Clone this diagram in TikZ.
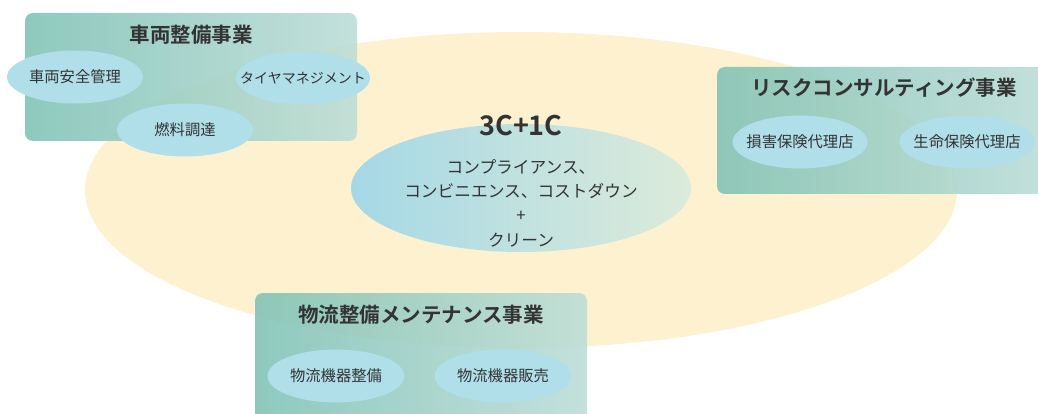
\documentclass[tikz,border=0pt]{standalone}
\usepackage{fontspec}
\newfontfamily\jp{Noto Sans CJK JP}
\newfontfamily\jpb{Noto Sans CJK JP Bold}
\usetikzlibrary{shapes.geometric}
\definecolor{yel}{HTML}{FEF1CF}
\definecolor{tealL}{HTML}{7FC2B5}
\definecolor{tealR}{HTML}{BCDDD7}
\definecolor{sky}{HTML}{B0DFEA}
\definecolor{cL}{HTML}{A5D8E6}
\definecolor{cR}{HTML}{DCEBDA}
\definecolor{txt}{HTML}{333333}
\tikzset{
  bizbox/.style={rounded corners=8pt, left color=tealL, right color=tealR, fill opacity=0.88, draw=none},
  svc/.style={ellipse, fill=sky, draw=none, minimum width=136pt, minimum height=53pt, inner sep=0pt},
  svctext/.style={text=txt, inner sep=0pt, font=\jp\fontsize{15.3}{17}\selectfont},
  ttl/.style={text=txt, font=\jpb\fontsize{20.5}{23}\selectfont, inner sep=0pt},
}
\begin{document}
\begin{tikzpicture}[x=1pt,y=-1pt]
\useasboundingbox (0,0) rectangle (1038,414);
\clip (0,0) rectangle (1038,414);
\fill[white] (0,0) rectangle (1038,414);
% big ellipse
\node[ellipse, fill=yel, draw=none, minimum width=872pt, minimum height=316pt, inner sep=0pt] (big) at (521,190) {};
% business boxes
\path[bizbox] (25,13) rectangle (357,141);
\path[bizbox] (717,67) rectangle (1050,194);
\path[bizbox] (255,293) rectangle (587,425);
\node[ttl] (t1) at (191,35) {車両整備事業};
\node[ttl] (t2) at (884,88) {リスクコンサルティング事業};
\node[ttl] (t3) at (421,315) {物流整備メンテナンス事業};
% services
\node[svc] (s1) at (75,77) {};
\node[svctext] at (s1) {車両安全管理};
\node[svc, minimum width=134pt] (s2) at (303,78) {};
\node[svctext, font=\jp\fontsize{14}{16}\selectfont] at (s2) {タイヤマネジメント};
\node[svc] (s3) at (185,130) {};
\node[svctext] at (s3) {燃料調達};
\node[svc, minimum width=135pt] (s4) at (800,142) {};
\node[svctext] at (s4) {損害保険代理店};
\node[svc, minimum width=135pt] (s5) at (967,142) {};
\node[svctext] at (s5) {生命保険代理店};
\node[svc, minimum width=137pt] (s6) at (336,376) {};
\node[svctext] at (s6) {物流機器整備};
\node[svc, minimum width=137pt] (s7) at (503,376) {};
\node[svctext] at (s7) {物流機器販売};
% center
\node[ellipse, left color=cL, right color=cR, draw=none, minimum width=340pt, minimum height=128pt, inner sep=0pt] (c) at (521,188) {};
\node[text=txt, font=\jpb\fontsize{27}{29}\selectfont, inner sep=0pt] (t0) at (521,126) {3C+1C};
\node[text=txt, font=\jp\fontsize{16.7}{24.3}\selectfont, align=center, inner sep=0pt] (ct) at (521,203) {コンプライアンス、\\コンビニエンス、コストダウン\\+\\クリーン};
\end{tikzpicture}
\end{document}
